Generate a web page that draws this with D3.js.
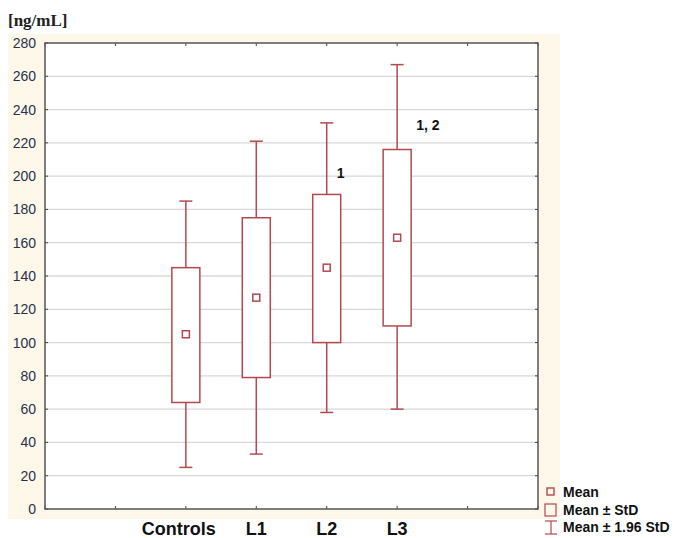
<!DOCTYPE html>
<html><head><meta charset="utf-8">
<script src="https://cdn.jsdelivr.net/npm/d3@7"></script>
<style>body{margin:0;background:#fff}svg{display:block}</style>
</head><body>
<script>
const categories = ["Controls","L1","L2","L3"];
const means      = [105, 127, 145, 163];
const sdLow      = [64, 79, 100, 110];
const sdHigh     = [145, 175, 189, 216];
const ciLow      = [25, 33, 58, 60];
const ciHigh     = [185, 221, 232, 267];
const notes      = ["", "", "1", "1, 2"];
const yTicks     = d3.range(0, 281, 20);
const legendLabels = ["Mean", "Mean \u00b1 StD", "Mean \u00b1 1.96 StD"];

const W = 675, H = 538;
const col = "#b3494f";
const svg = d3.select("body").append("svg").attr("width", W).attr("height", H);

svg.append("rect").attr("x", 8).attr("y", 34).attr("width", 552).attr("height", 485).attr("fill", "#fdf8ea");

const L = 45, R = 538, T = 43, B = 509;
svg.append("rect").attr("x", L).attr("y", T).attr("width", R - L).attr("height", B - T).attr("fill", "#fff");

const y = d3.scaleLinear().domain([0, 280]).range([B, T]);
const slots = d3.range(0, 8);
const x = d3.scaleLinear().domain([0, 7]).range([L, R]);
const cx = i => x(i + 2);

// grid
svg.append("g").selectAll("line").data(yTicks.filter(d => d > 0 && d < 280)).join("line")
  .attr("x1", L).attr("x2", R).attr("y1", d => y(d)).attr("y2", d => y(d))
  .attr("stroke", "#d8d8d8").attr("stroke-width", 1.3);

// axes
const yAxis = d3.axisLeft(y).tickValues(yTicks).tickSize(0).tickPadding(9);
const gy = svg.append("g").attr("transform", `translate(${L},0)`).call(yAxis);
gy.select(".domain").remove();
gy.selectAll("text").attr("font-family", "Liberation Sans, Arial, sans-serif").attr("font-size", 14).attr("fill", "#27324a");

// inner ticks
const tk = svg.append("g").attr("stroke", "#444").attr("stroke-width", 1);
yTicks.forEach(d => {
  tk.append("line").attr("x1", L).attr("x2", L + 3).attr("y1", y(d)).attr("y2", y(d));
  tk.append("line").attr("x1", R - 3).attr("x2", R).attr("y1", y(d)).attr("y2", y(d));
});
slots.forEach(s => {
  tk.append("line").attr("x1", x(s)).attr("x2", x(s)).attr("y1", T).attr("y2", T + 3);
  tk.append("line").attr("x1", x(s)).attr("x2", x(s)).attr("y1", B - 3).attr("y2", B);
});

// frame
svg.append("rect").attr("x", L).attr("y", T).attr("width", R - L).attr("height", B - T)
  .attr("fill", "none").attr("stroke", "#555").attr("stroke-width", 1.5);

// x labels
svg.append("g").selectAll("text").data(categories).join("text")
  .attr("x", (d, i) => cx(i) - (i === 0 ? 7 : 0)).attr("y", 535).attr("text-anchor", "middle")
  .attr("font-family", "Liberation Sans, Arial, sans-serif").attr("font-weight", "bold").attr("font-size", 18)
  .attr("fill", "#111").text(d => d);

// boxes
const bw = 28, cw = 13;
const g = svg.append("g").attr("stroke", col).attr("stroke-width", 1.5).attr("fill", "none");
categories.forEach((c, i) => {
  const X = cx(i);
  g.append("line").attr("x1", X).attr("x2", X).attr("y1", y(ciHigh[i])).attr("y2", y(sdHigh[i]));
  g.append("line").attr("x1", X).attr("x2", X).attr("y1", y(sdLow[i])).attr("y2", y(ciLow[i]));
  g.append("line").attr("x1", X - cw / 2).attr("x2", X + cw / 2).attr("y1", y(ciHigh[i])).attr("y2", y(ciHigh[i]));
  g.append("line").attr("x1", X - cw / 2).attr("x2", X + cw / 2).attr("y1", y(ciLow[i])).attr("y2", y(ciLow[i]));
  g.append("rect").attr("x", X - bw / 2).attr("y", y(sdHigh[i])).attr("width", bw).attr("height", y(sdLow[i]) - y(sdHigh[i])).attr("fill", "#fff");
  g.append("rect").attr("x", X - 3.5).attr("y", y(means[i]) - 3.5).attr("width", 7).attr("height", 7).attr("fill", "#fff");
});

// notes
svg.append("g").selectAll("text").data(notes).join("text")
  .attr("x", (d, i) => cx(i) + (i === 3 ? 19 : 10)).attr("y", (d, i) => y(ciHigh[i]) + (i === 3 ? 65 : 55))
  .attr("text-anchor", "start")
  .attr("font-family", "Liberation Sans, Arial, sans-serif").attr("font-weight", "bold").attr("font-size", 14)
  .attr("fill", "#111").text(d => d);

// y label
svg.append("text").attr("x", 8).attr("y", 26).attr("font-family", "Liberation Serif, Times New Roman, serif")
  .attr("font-weight", "bold").attr("font-size", 17).attr("fill", "#222").text("[ng/mL]");

// legend
const lg = svg.append("g");
const ly = [492, 510, 527];
lg.append("rect").attr("x", 547).attr("y", ly[0] - 4).attr("width", 7).attr("height", 7).attr("fill", "none").attr("stroke", col).attr("stroke-width", 1.4);
lg.append("rect").attr("x", 545).attr("y", ly[1] - 6).attr("width", 11).attr("height", 12).attr("fill", "none").attr("stroke", col).attr("stroke-width", 1.2);
const iy = ly[2];
lg.append("line").attr("x1", 545).attr("x2", 557).attr("y1", iy - 6).attr("y2", iy - 6).attr("stroke", col).attr("stroke-width", 1.2);
lg.append("line").attr("x1", 545).attr("x2", 557).attr("y1", iy + 7).attr("y2", iy + 7).attr("stroke", col).attr("stroke-width", 1.2);
lg.append("line").attr("x1", 551).attr("x2", 551).attr("y1", iy - 6).attr("y2", iy + 7).attr("stroke", col).attr("stroke-width", 1.2);
lg.selectAll("text").data(legendLabels).join("text")
  .attr("x", 563).attr("y", (d, i) => ly[i] + 5)
  .attr("font-family", "Liberation Sans, Arial, sans-serif").attr("font-weight", "bold").attr("font-size", 14)
  .attr("fill", "#111").text(d => d);
</script>
</body></html>
